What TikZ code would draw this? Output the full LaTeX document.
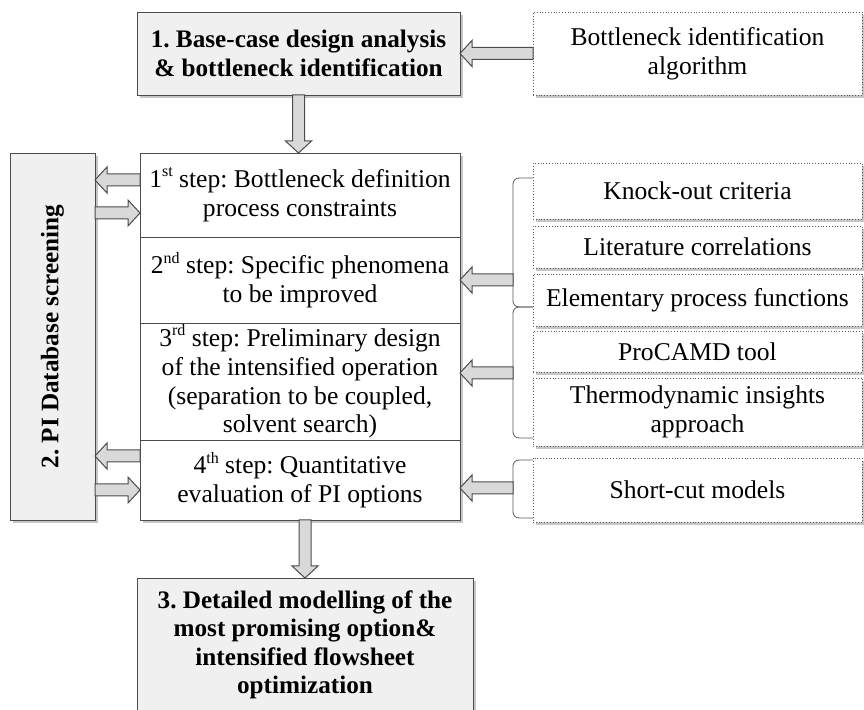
\documentclass[tikz,border=0pt]{standalone}
\usepackage{fontspec}
\setmainfont{Liberation Serif}
\usetikzlibrary{positioning,calc,shadows}
\frenchspacing

% half width of shaft, half width of head, head length
\newcommand\shaftw{3pt}
\newcommand\headw{6.5pt}
\newcommand\headl{6pt}
% small raised ordinal suffix
\newcommand\ordsuf[1]{\raisebox{0.42em}{\fontsize{8}{8}\selectfont #1}}

\tikzset{
  boxfont/.style={font=\fontsize{12.8}{14.4}\selectfont},
  boldfont/.style={font=\fontsize{12.6}{14.2}\selectfont\bfseries},
  shade box/.style={drop shadow={shadow xshift=1.5pt,shadow yshift=-1.5pt,opacity=.45}},
  mainbox/.style={draw=black!70,fill=black!6,boldfont,
    align=center,inner sep=1pt,outer sep=0pt,minimum width=161.5pt,shade box},
  stepbox/.style={draw=black!70,fill=white,boxfont,align=center,inner sep=0pt,
    outer sep=0pt,minimum width=160pt,shade box},
  toolbox/.style={draw=black!65,densely dotted,fill=white,boxfont,align=center,
    inner sep=0pt,outer sep=0pt,minimum width=164.5pt,shade box},
  bracket/.style={draw=black!65,rounded corners=3pt},
  fatarrow/.style={draw=black!70,fill=black!15,line width=.5pt,to path={
    let \p1=(\tikztostart), \p2=(\tikztotarget),
        \n1={veclen(\x2-\x1,\y2-\y1)},
        \n2={(\x2-\x1)/\n1}, \n3={(\y2-\y1)/\n1} in
    ({\x1-\n3*\shaftw},{\y1+\n2*\shaftw})
    -- ({\x2-\n2*\headl-\n3*\shaftw},{\y2-\n3*\headl+\n2*\shaftw})
    -- ({\x2-\n2*\headl-\n3*\headw},{\y2-\n3*\headl+\n2*\headw})
    -- (\x2,\y2)
    -- ({\x2-\n2*\headl+\n3*\headw},{\y2-\n3*\headl-\n2*\headw})
    -- ({\x2-\n2*\headl+\n3*\shaftw},{\y2-\n3*\headl-\n2*\shaftw})
    -- ({\x1+\n3*\shaftw},{\y1-\n2*\shaftw}) -- cycle}},
}

\begin{document}
\begin{tikzpicture}[x=0.5pt,y=-0.5pt]
    \useasboundingbox (0,0) rectangle (864,710);

    % main stages
    \node[mainbox,minimum height=41.5pt] (base) at (298.5,53.5)
        {1. Base-case design analysis\\ \& bottleneck identification};
    \node[toolbox,minimum height=41.5pt] (algo) at (697.5,53.5)
        {Bottleneck identification\\algorithm};
    \node[mainbox,minimum width=168pt,minimum height=67pt] (detail) at (305,645)
        {3. Detailed modelling of the\\most promising option\&\\intensified flowsheet\\optimization};

    % PI database
    \node[mainbox,minimum width=42.5pt,minimum height=183.5pt,
          label={[rotate=90,boldfont]center:2. PI Database screening}]
          (pidb) at (52.5,336.5) {};

    % steps
    \node[stepbox,minimum height=42pt]             (step1) at (300,195)
        {1\ordsuf{st} step: Bottleneck definition\\process constraints};
    \node[stepbox,minimum height=43pt]   (step2) [below=0pt of step1]
        {2\ordsuf{nd} step: Specific phenomena\\to be improved};
    \node[stepbox,minimum height=58.5pt] (step3) [below=0pt of step2]
        {3\ordsuf{rd} step: Preliminary design\\of the intensified operation\\(separation to be coupled,\\solvent search)};
    \node[stepbox,minimum height=40pt]   (step4) [below=0pt of step3]
        {4\ordsuf{th} step: Quantitative\\evaluation of PI options};

    % tools
    \node[toolbox,minimum height=28pt]   (knock)  at (697.5,191) {Knock-out criteria};
    \node[toolbox,minimum height=21pt]   (litcor) [below=3.5pt of knock]  {Literature correlations};
    \node[toolbox,minimum height=26pt]   (epf)    [below=3pt of litcor]   {Elementary process functions};
    \node[toolbox,minimum height=20.5pt] (procamd)[below=2.5pt of epf]    {ProCAMD tool};
    \node[toolbox,minimum height=34pt]   (thermo) [below=3pt of procamd]  {Thermodynamic insights\\approach};
    \node[toolbox,minimum height=32pt]   (short)  [below=6pt of thermo]   {Short-cut models};

    % brackets
    \coordinate (brA) at (513,280);
    \coordinate (brB) at (513,373);
    \coordinate (brC) at (513,488);
    \draw[bracket] (533,178) -- (513,178) -- (513,307) -- (533,307);
    \draw[bracket] (533,307) -- (513,307) -- (513,438) -- (533,438);
    \draw[bracket] (short.north west |- 0,460) -- (513,460) -- (513,518) -- (short.south west |- 0,518);

    % side arrows
    \coordinate (outA) at ([yshift=7.5pt]step1.west);
    \coordinate (inA)  at ([yshift=-9pt]step1.west);
    \coordinate (outB) at ([yshift=12pt]step4.west);
    \coordinate (inB)  at ([yshift=-5pt]step4.west);

    \path[fatarrow] (algo.west) to (base.east)
                    (base.south) to (base.south |- step1.north)
                    (detail.north |- step4.south) to (detail.north)
                    (outA) to (outA -| pidb.east)
                    (inA -| pidb.east) to (inA)
                    (outB) to (outB -| pidb.east)
                    (inB -| pidb.east) to (inB)
                    (brA) to (brA -| step2.east)
                    (brB) to (brB -| step3.east)
                    (brC) to (brC -| step4.east);
\end{tikzpicture}
\end{document}
